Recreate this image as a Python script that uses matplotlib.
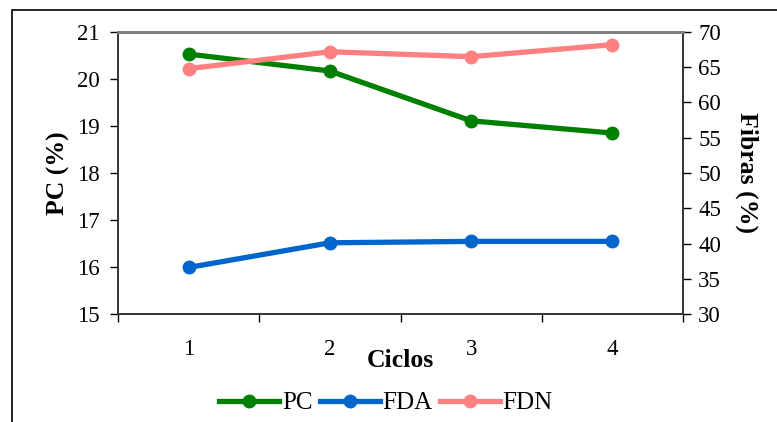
import numpy as np
import matplotlib.pyplot as plt
from matplotlib.patches import Rectangle

ciclos = ['1', '2', '3', '4']
pc = [20.53, 20.17, 19.11, 18.85]
fda = [36.6, 40.1, 40.3, 40.3]
fdn = [64.8, 67.2, 66.5, 68.2]

plt.rcParams['font.family'] = 'Liberation Serif'

fig = plt.figure(figsize=(7.77, 4.22), dpi=100)
# outer frame of the chart (runs off the right and bottom edges)
fig.patches.append(Rectangle((12 / 777, -0.2), 2, 1.2 - 10 / 422, transform=fig.transFigure,
                             fill=False, edgecolor='black', linewidth=1.2))

ax = fig.add_axes([118 / 777, 1 - 314 / 422, 565 / 777, 282 / 422])
ax2 = ax.twinx()

x = np.arange(len(ciclos))
mk = dict(marker='o', markersize=9, linewidth=3.8)
l1, = ax.plot(x, pc, color='#008000', label='PC', **mk)
l2, = ax2.plot(x, fda, color='#0066CC', label='FDA', **mk)
l3, = ax2.plot(x, fdn, color='#FF8080', label='FDN', **mk)

ax.set_xlim(-0.5, 3.5)
ax.set_ylim(15, 21)
ax2.set_ylim(30, 70)
ax.set_yticks(range(15, 22))
ax2.set_yticks(range(30, 71, 5))
ax.set_xticks(x)
ax.set_xticklabels(ciclos)
ax.set_xticks(np.arange(-0.5, 3.6, 1), minor=True)
ax.tick_params(axis='x', which='major', length=0, pad=18, labelsize=16.5)
ax.tick_params(axis='x', which='minor', length=6, width=1, direction='out')
ax.tick_params(axis='y', length=6, width=1, direction='out', labelsize=16.5, pad=7)
ax2.tick_params(axis='y', length=6, width=1, direction='out', labelsize=16.5, pad=5)

for a in (ax, ax2):
    a.spines['top'].set_color('#808080')
    a.spines['top'].set_linewidth(2)
    for s in ('left', 'right', 'bottom'):
        a.spines[s].set_color('#333333')
        a.spines[s].set_linewidth(1.2)

ax.set_xlabel('Ciclos', fontsize=18.5, fontweight='bold', labelpad=-8)
ax.set_ylabel('PC (%)', fontsize=18.5, fontweight='bold', labelpad=5)
ax2.set_ylabel('Fibras (%)', fontsize=18.5, fontweight='bold', rotation=-90, labelpad=27)

fig.legend(handles=[l1, l2, l3], loc='center', bbox_to_anchor=(386 / 777, 1 - 403 / 422),
           ncol=3, frameon=False, fontsize=18, handlelength=2.4, handletextpad=0.1,
           columnspacing=0.3, borderaxespad=0)

fig.savefig('out.png', dpi=100)
